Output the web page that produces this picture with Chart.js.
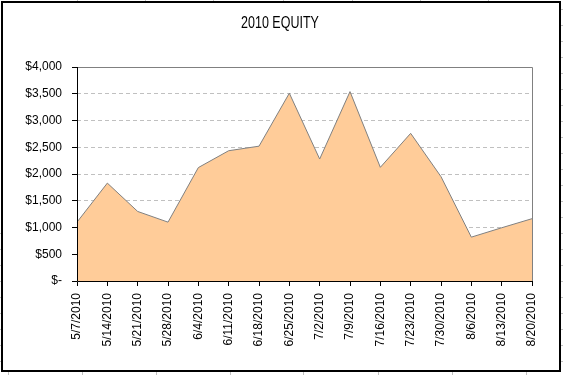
<!DOCTYPE html>
<html>
<head>
<meta charset="utf-8">
<script src="https://cdn.jsdelivr.net/npm/chart.js@4/dist/chart.umd.min.js"></script>
<style>
	html, body { margin: 0; padding: 0; background: #fff; }
	canvas { display: block; }
</style>
</head>
<body>
<canvas id="graphicEquity" width="563" height="375"></canvas>
<script>
const title = '2010 EQUITY';
const dates = ['5/7/2010', '5/14/2010', '5/21/2010', '5/28/2010', '6/4/2010', '6/11/2010',
	'6/18/2010', '6/25/2010', '7/2/2010', '7/9/2010', '7/16/2010', '7/23/2010',
	'7/30/2010', '8/6/2010', '8/13/2010', '8/20/2010'];
const equity = [1100, 1830, 1300, 1100, 2120, 2435, 2520, 3510,
	2280, 3540, 2125, 2760, 1950, 820, 995, 1165];
const yTicks = [0, 500, 1000, 1500, 2000, 2500, 3000, 3500, 4000];

const font = { family: '"Liberation Sans", Arial, sans-serif', size: 12 };

// sheet background + outer chart frame + plot area edges + title
const framePlugin = {
	id: 'frame',
	beforeDraw: function(chart) {
		const ctx = chart.ctx;
		ctx.save();
		ctx.fillStyle = '#fff';
		ctx.fillRect(0, 0, chart.width, chart.height);
		ctx.strokeStyle = '#c0c0c0';
		ctx.lineWidth = 1;
		ctx.beginPath();
		for (let y = 9.5; y < 375; y += 16) {
			ctx.moveTo(561, y); ctx.lineTo(563, y);
		}
		for (let y = 233.5; y < 372; y += 16) {
			ctx.moveTo(0, y); ctx.lineTo(1, y);
		}
		[8.5, 82.5, 156.5, 230.5, 303.5, 378.5, 452.5, 526.5].forEach(function(x) {
			ctx.moveTo(x, 372); ctx.lineTo(x, 375);
		});
		[77.5, 145.5, 213.5, 283.5, 352.5, 420.5, 488.5].forEach(function(x) {
			ctx.moveTo(x, 0); ctx.lineTo(x, 1);
		});
		ctx.stroke();
		ctx.strokeStyle = '#000';
		ctx.lineWidth = 2;
		ctx.strokeRect(2, 2, 558, 369);
		// title: excel screen font is taller than it is wide
		ctx.fillStyle = '#000';
		ctx.font = '12.5px ' + font.family;
		ctx.textAlign = 'center';
		ctx.textBaseline = 'middle';
		ctx.translate(280, 24);
		ctx.scale(1, 1.3);
		ctx.fillText(title, 0, 0);
		ctx.restore();
	},
	afterDatasetsDraw: function(chart) {
		const ctx = chart.ctx;
		const a = chart.chartArea;
		ctx.save();
		ctx.lineWidth = 1;
		ctx.strokeStyle = '#808080';
		ctx.beginPath();
		ctx.moveTo(a.left, a.top + 0.5);
		ctx.lineTo(a.right + 0.5, a.top + 0.5);
		ctx.lineTo(a.right + 0.5, a.bottom);
		ctx.stroke();
		ctx.strokeStyle = '#000';
		ctx.beginPath();
		ctx.moveTo(a.left + 0.5, a.top);
		ctx.lineTo(a.left + 0.5, a.bottom + 0.5);
		ctx.lineTo(a.right + 1, a.bottom + 0.5);
		ctx.stroke();
		ctx.restore();
	}
};

const ctx = document.getElementById('graphicEquity').getContext('2d');
const graphicEquity = new Chart(ctx, {
	type: 'line',
	data: {
		labels: dates,
		datasets: [{
			label: title,
			data: equity,
			fill: 'origin',
			backgroundColor: '#ffcc99',
			borderColor: '#808080',
			borderWidth: 1,
			pointRadius: 0,
			tension: 0
		}]
	},
	options: {
		responsive: false,
		animation: false,
		devicePixelRatio: 1,
		layout: { padding: { left: 0, top: 67, right: 31, bottom: 0 } },
		plugins: {
			legend: { display: false },
			title: { display: false },
			tooltip: { enabled: false }
		},
		scales: {
			x: {
				offset: false,
				afterFit: function(scale) { scale.height = 94; },
				border: { display: false },
				grid: {
					drawOnChartArea: false,
					tickLength: 5,
					tickColor: '#000',
					tickWidth: 1
				},
				ticks: {
					color: '#000',
					font: font,
					minRotation: 90,
					maxRotation: 90,
					autoSkip: false,
					padding: 7
				}
			},
			y: {
				min: 0,
				max: 4000,
				afterFit: function(scale) { scale.width = 77; },
				afterBuildTicks: function(scale) {
					scale.ticks = yTicks.map(function(v) { return { value: v }; });
				},
				border: { display: false, dash: [4, 3] },
				grid: {
					color: '#c0c0c0',
					lineWidth: 1,
					tickLength: 5,
					tickColor: '#000',
					tickWidth: 1,
					tickBorderDash: []
				},
				ticks: {
					color: '#000',
					font: font,
					padding: 10,
					callback: function(v) {
						return v === 0 ? '$-' : '$' + v.toLocaleString('en-US');
					}
				}
			}
		}
	},
	plugins: [framePlugin]
});
</script>
</body>
</html>
